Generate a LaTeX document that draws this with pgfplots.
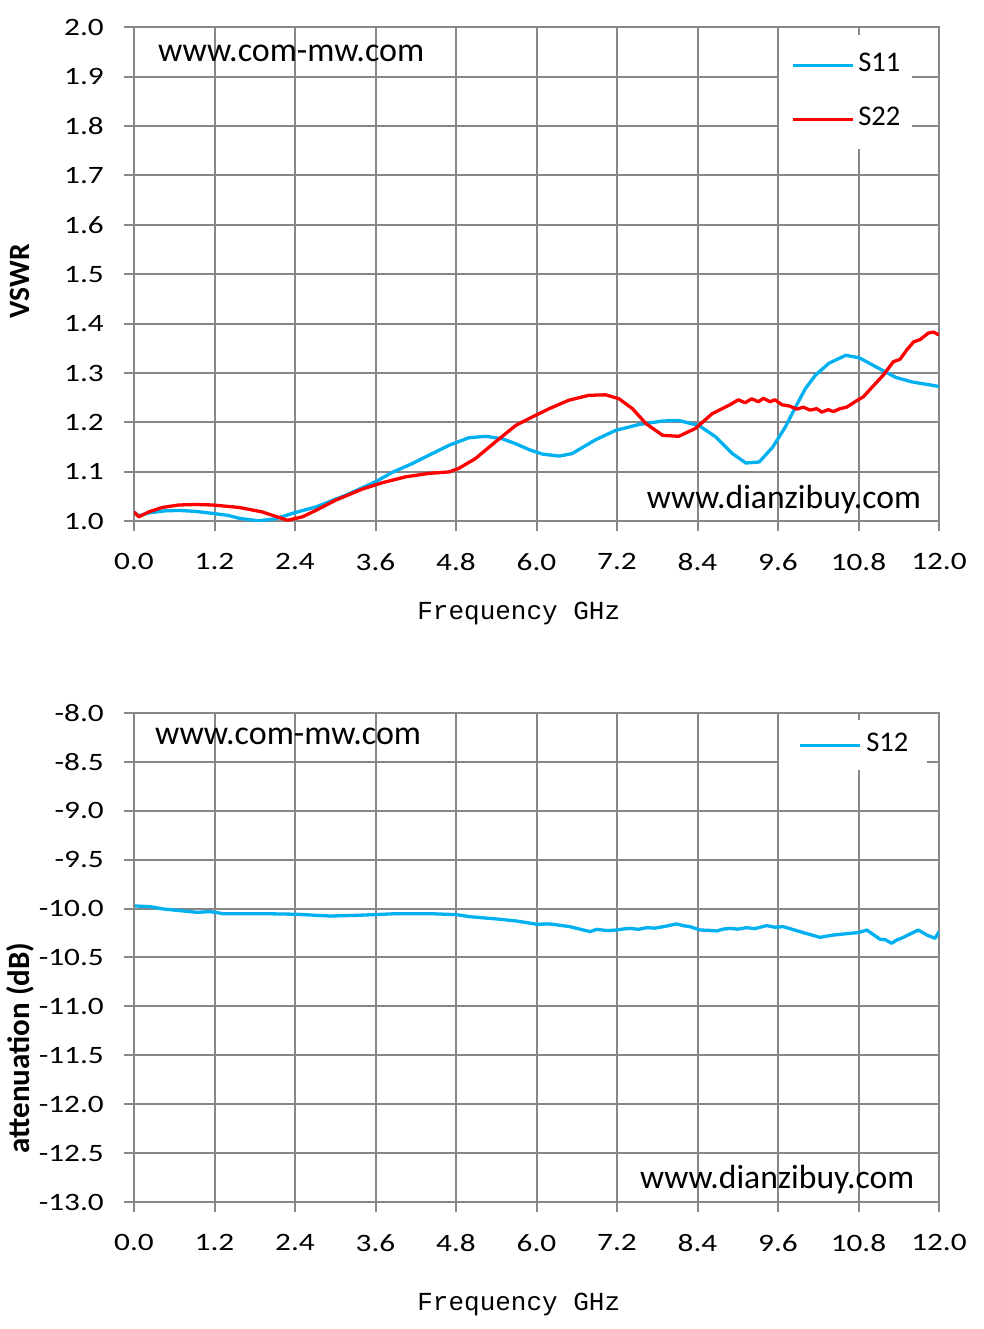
\documentclass[border=0pt]{standalone}
\usepackage{fontspec}
\setmainfont{Carlito}
\newfontfamily\tickfont{Carlito}[FakeStretch=1.25]
\newfontfamily\labmono{Liberation Mono}
\usepackage{pgfplots}
\usepackage{pgfplotstable}
\pgfplotsset{compat=1.18}
\definecolor{sblue}{RGB}{0,176,240}
\definecolor{sred}{RGB}{255,0,0}
\definecolor{gridgray}{RGB}{135,135,135}

\pgfplotstableread{
f v
0.00 1.019
0.07 1.011
0.22 1.017
0.45 1.021
0.67 1.022
0.92 1.020
1.17 1.016
1.40 1.012
1.57 1.006
1.86 1.001
2.11 1.005
2.36 1.016
2.71 1.029
3.16 1.053
3.60 1.080
3.85 1.099
4.15 1.117
4.40 1.134
4.70 1.154
4.99 1.169
5.24 1.172
5.49 1.167
5.69 1.157
5.89 1.145
6.09 1.136
6.34 1.132
6.53 1.137
6.88 1.165
7.18 1.184
7.53 1.196
7.88 1.203
8.12 1.204
8.42 1.194
8.67 1.171
8.92 1.137
9.12 1.118
9.32 1.120
9.52 1.150
9.71 1.191
9.86 1.231
10.01 1.269
10.16 1.296
10.36 1.320
10.61 1.336
10.81 1.331
11.11 1.309
11.36 1.291
11.60 1.282
12.00 1.273
}\sonetable

\pgfplotstableread{
f v
0.00 1.019
0.07 1.009
0.22 1.019
0.42 1.028
0.67 1.033
0.92 1.034
1.17 1.033
1.57 1.028
1.91 1.019
2.11 1.010
2.29 1.002
2.51 1.009
2.71 1.022
3.01 1.043
3.40 1.065
3.70 1.078
4.05 1.090
4.40 1.097
4.70 1.100
4.84 1.107
5.09 1.127
5.39 1.161
5.69 1.194
5.89 1.208
6.19 1.228
6.48 1.245
6.78 1.255
7.03 1.256
7.23 1.248
7.43 1.228
7.63 1.198
7.88 1.174
8.12 1.172
8.37 1.188
8.62 1.218
8.885 1.236
9.009 1.246
9.109 1.240
9.208 1.248
9.308 1.242
9.382 1.249
9.481 1.242
9.556 1.246
9.655 1.236
9.779 1.233
9.879 1.227
9.978 1.231
10.078 1.225
10.177 1.228
10.252 1.221
10.351 1.226
10.426 1.222
10.525 1.228
10.624 1.231
10.748 1.242
10.872 1.252
11.02 1.274
11.17 1.296
11.32 1.323
11.42 1.328
11.52 1.347
11.62 1.363
11.72 1.368
11.84 1.381
11.92 1.383
12.00 1.377
}\stwotable

\pgfplotstableread{
f v
0.015 -9.973
0.239 -9.980
0.437 -10.004
0.934 -10.038
1.133 -10.031
1.331 -10.052
1.928 -10.052
2.425 -10.058
2.922 -10.076
3.320 -10.069
3.916 -10.052
4.413 -10.052
4.811 -10.062
5.009 -10.083
5.407 -10.106
5.705 -10.127
6.003 -10.160
6.201 -10.157
6.50 -10.185
6.798 -10.236
6.898 -10.212
7.050 -10.225
7.196 -10.219
7.300 -10.208
7.394 -10.202
7.520 -10.212
7.643 -10.195
7.760 -10.200
7.891 -10.185
8.090 -10.157
8.190 -10.175
8.289 -10.185
8.438 -10.219
8.560 -10.222
8.686 -10.229
8.780 -10.210
8.885 -10.202
9.000 -10.210
9.134 -10.195
9.250 -10.205
9.432 -10.174
9.550 -10.190
9.680 -10.185
9.978 -10.246
10.227 -10.294
10.425 -10.270
10.550 -10.262
10.674 -10.253
10.800 -10.245
10.923 -10.219
11.121 -10.314
11.200 -10.318
11.295 -10.355
11.37 -10.321
11.45 -10.300
11.568 -10.260
11.693 -10.219
11.817 -10.270
11.941 -10.304
12.0 -10.236
}\sthreetable

\pgfplotsset{
  chartbase/.style={
    scale only axis,
    width=805pt,
    xmin=0, xmax=12,
    xtick={0,1.2,2.4,3.6,4.8,6,7.2,8.4,9.6,10.8,12},
    xticklabels={0.0,1.2,2.4,3.6,4.8,6.0,7.2,8.4,9.6,10.8,12.0},
    grid=major,
    grid style={gridgray, line width=2pt},
    axis line style={gridgray, line width=2pt},
    tick style={gridgray, line width=2pt},
    tick align=outside,
    major tick length=10pt,
    xtick pos=left, ytick pos=left,
    ticklabel style={font=\fontsize{25}{30}\selectfont\tickfont, text=black},
    xticklabel style={anchor=north, inner sep=0pt, yshift=-22pt},
    yticklabel style={anchor=east, inner sep=0pt, xshift=-20pt},
    legend cell align=left,
    legend image code/.code={\draw[#1, line width=3.3pt] (0pt,0pt) -- (60pt,0pt);},
    every axis plot/.append style={line width=3.3pt, line join=round},
  }
}

\begin{document}
\begin{tikzpicture}
\useasboundingbox (0pt,0pt) rectangle (983pt,1329pt);

\begin{axis}[chartbase,
  at={(134pt,807.7pt)}, anchor=south west,
  height=494pt,
  ymin=1.0, ymax=2.0,
  ytick={1.0,1.1,1.2,1.3,1.4,1.5,1.6,1.7,1.8,1.9,2.0},
  yticklabels={1.0,1.1,1.2,1.3,1.4,1.5,1.6,1.7,1.8,1.9,2.0},
  xlabel={Frequency GHz},
  xlabel style={font=\fontsize{26}{30}\selectfont\labmono, at={(axis description cs:0.478,-0.186)}, anchor=center},
  ylabel={VSWR},
  ylabel style={font=\fontsize{29.5}{32}\selectfont\bfseries, at={(axis description cs:-0.1416,0.486)}, anchor=center},
  legend style={at={(0.801,0.984)}, anchor=north west, draw=none, fill=white,
    inner xsep=12pt, inner ysep=17pt, row sep=28pt,
    font=\fontsize{28.5}{30}\selectfont,
    nodes={inner sep=0pt, text height=19pt, text depth=7pt},
    /tikz/every odd column/.append style={column sep=4pt}},
]
\addplot[sblue] table[x=f,y=v] {\sonetable};
\addlegendentry{S11}
\addplot[sred] table[x=f,y=v] {\stwotable};
\addlegendentry{S22}
\node[anchor=base west, inner sep=0pt, font=\fontsize{34}{38}\selectfont] at (rel axis cs:0.0298,0.930) {www.com-mw.com};
\node[anchor=base west, inner sep=0pt, font=\fontsize{33.6}{38}\selectfont] at (rel axis cs:0.637,0.0263) {www.dianzibuy.com};
\end{axis}

\begin{axis}[chartbase,
  at={(134pt,127pt)}, anchor=south west,
  height=489pt,
  ymin=-13, ymax=-8,
  ytick={-13,-12.5,-12,-11.5,-11,-10.5,-10,-9.5,-9,-8.5,-8},
  yticklabels={-13.0,-12.5,-12.0,-11.5,-11.0,-10.5,-10.0,-9.5,-9.0,-8.5,-8.0},
  xlabel={Frequency GHz},
  xlabel style={font=\fontsize{26}{30}\selectfont\labmono, at={(axis description cs:0.478,-0.2106)}, anchor=center},
  ylabel={attenuation (dB)},
  ylabel style={font=\fontsize{31}{34}\selectfont\bfseries, at={(axis description cs:-0.1416,0.315)}, anchor=center},
  legend style={at={(0.801,0.9857)}, anchor=north west, draw=none, fill=white,
    inner xsep=19pt, inner ysep=12pt,
    font=\fontsize{28.5}{30}\selectfont,
    nodes={inner sep=0pt, text height=19pt, text depth=7pt},
    /tikz/every odd column/.append style={column sep=5pt}},
]
\addplot[sblue] table[x=f,y=v] {\sthreetable};
\addlegendentry{S12}
\node[anchor=base west, inner sep=0pt, font=\fontsize{34}{38}\selectfont] at (rel axis cs:0.026,0.9346) {www.com-mw.com};
\node[anchor=base west, inner sep=0pt, font=\fontsize{33.6}{38}\selectfont] at (rel axis cs:0.6286,0.028) {www.dianzibuy.com};
\end{axis}
\end{tikzpicture}
\end{document}
